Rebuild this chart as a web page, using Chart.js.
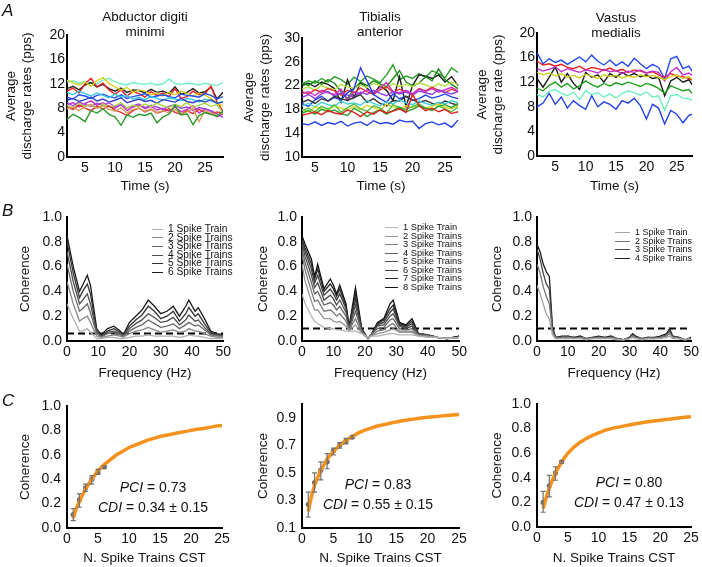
<!DOCTYPE html>
<html>
<head>
<meta charset="utf-8">
<script src="https://cdn.jsdelivr.net/npm/chart.js@4"></script>
<style>
body { margin: 0; background: #fff; }
#fig { position: relative; width: 702px; height: 567px; overflow: hidden; background: #fff;
  font-family: 'Liberation Sans', Arial, sans-serif; color: #111; }
#fig canvas { position: absolute; }
.t { position: absolute; white-space: nowrap; }
.ttl { font-size: 13.5px; line-height: 14.5px; text-align: center; transform: translateX(-50%); }
.let { font-size: 17px; font-style: italic; }
.ann { font-size: 14px; line-height: 20px; text-align: center; transform: translateX(-50%); }
.leg { position: absolute; white-space: nowrap; }
.leg span { display: inline-block; vertical-align: middle; border-top: 1.3px solid #555; margin-right: 5px; }
</style>
</head>
<body>
<div id="fig">
  <canvas id="a1" width="234" height="196" style="left:0;top:0"></canvas>
  <canvas id="a2" width="230" height="196" style="left:240px;top:0"></canvas>
  <canvas id="a3" width="232" height="196" style="left:470px;top:0"></canvas>
  <canvas id="b1" width="234" height="188" style="left:0;top:195px"></canvas>
  <canvas id="b2" width="230" height="188" style="left:240px;top:195px"></canvas>
  <canvas id="b3" width="232" height="188" style="left:470px;top:195px"></canvas>
  <canvas id="c1" width="234" height="184" style="left:0;top:383px"></canvas>
  <canvas id="c2" width="230" height="184" style="left:240px;top:383px"></canvas>
  <canvas id="c3" width="232" height="184" style="left:470px;top:383px"></canvas>

  <div class="t let" style="left:2px;top:1px">A</div>
  <div class="t let" style="left:2px;top:201px">B</div>
  <div class="t let" style="left:2px;top:391px">C</div>

  <div class="t ttl" style="left:145px;top:10px">Abductor digiti<br>minimi</div>
  <div class="t ttl" style="left:380px;top:10px">Tibialis<br>anterior</div>
  <div class="t ttl" style="left:616px;top:11px">Vastus<br>medialis</div>

  <div class="t ann" style="left:153px;top:477px"><i>PCI</i> = 0.73<br><i>CDI</i> = 0.34 ± 0.15</div>
  <div class="t ann" style="left:378px;top:474px"><i>PCI</i> = 0.83<br><i>CDI</i> = 0.55 ± 0.15</div>
  <div class="t ann" style="left:629px;top:472px"><i>PCI</i> = 0.80<br><i>CDI</i> = 0.47 ± 0.13</div>

  <div class="leg" id="legB1" style="left:152px;top:225px;font-size:10.2px;line-height:8.6px"></div>
  <div class="leg" id="legB2" style="left:385px;top:223px;font-size:9.3px;line-height:8.5px"></div>
  <div class="leg" id="legB3" style="left:615px;top:228px;font-size:9px;line-height:8.5px"></div>
</div>
<script>
// ---- A: average discharge rates ----
const tA1 = [2,3,4,5,6,7,8,9,10,11,12,13,14,15,16,17,18,19,20,21,22,23,24,25,26,27,28];
const tA2 = [3,4,5,6,7,8,9,10,11,12,13,14,15,16,17,18,19,20,21,22,23,24,25,26,27];
const tA3 = [2,3,4,5,6,7,8,9,10,11,12,13,14,15,16,17,18,19,20,21,22,23,24,25,26,27,27.5];
const timeTicks = [5,10,15,20,25];

const a1Aqua = [12.3,12.5,12.1,12.4,12.2,12.0,12.6,12.9,12.3,12.0,11.8,12.2,12.0,11.9,12.1,11.8,12.0,12.8,12.0,11.9,12.1,12.0,11.8,12.1,11.9,11.7,12.2];
const a1Black = [11.2,11.6,11.0,11.8,12.2,11.5,11.9,11.2,10.8,11.3,10.6,11.0,10.9,10.5,11.1,10.6,10.8,10.4,11.5,10.3,10.6,11.2,10.5,10.7,11.5,9.5,10.6];
const a1Red = [10.8,11.3,10.5,12.0,12.9,11.5,12.1,11.0,10.3,11.0,10.0,10.8,10.4,9.8,10.7,10.1,10.5,9.9,11.2,9.6,9.9,10.8,10.2,10.4,11.6,9.0,7.5];
const a1Yellow = [12.6,12.2,11.8,12.3,11.6,12.5,13.0,12.1,11.5,11.0,11.4,10.6,11.0,10.8,10.2,10.5,10.0,10.6,10.2,10.8,10.4,9.9,10.5,10.1,9.6,8.8,8.4];
const a1Blue = [9.8,9.5,10.2,10.0,9.6,10.1,10.3,9.9,9.7,10.2,9.6,9.9,10.1,10.4,9.8,10.0,10.2,9.9,9.7,10.3,10.1,10.0,9.8,10.4,10.1,9.5,9.9];
const a1Navy = [9.3,9.6,9.1,9.4,9.8,9.2,9.5,9.0,9.3,9.7,8.9,9.2,9.5,9.1,9.3,8.8,9.4,9.2,9.0,9.6,9.1,8.9,9.3,9.0,9.4,8.8,9.0];
const a1Cyan = [10.6,10.2,10.8,10.4,10.0,10.5,10.1,9.7,10.3,9.8,10.1,9.5,9.8,9.4,9.9,9.6,9.3,9.7,9.5,9.2,9.6,9.4,9.0,9.5,9.2,8.8,9.1];
const a1Magenta = [8.6,8.9,8.2,8.8,9.2,8.5,8.9,8.3,8.0,8.6,7.6,8.2,8.5,7.9,8.3,7.7,8.0,7.5,8.2,7.4,7.8,8.4,7.2,7.9,7.5,6.6,7.0];
const a1Purple = [8.9,8.4,9.0,8.6,8.3,8.8,8.5,8.9,8.2,8.6,8.0,8.4,8.7,8.1,8.5,8.2,7.8,8.3,8.6,8.0,8.2,7.6,8.1,7.9,7.6,7.1,6.5];
const a1Tan = [7.9,8.2,7.6,8.3,8.6,8.0,8.4,7.8,7.5,8.1,7.2,7.8,8.0,7.5,7.9,7.3,7.6,7.2,7.8,7.0,7.4,8.0,5.8,7.6,7.2,6.8,7.3];
const a1Green = [6.2,7.0,6.5,5.8,7.6,7.2,7.9,7.0,6.6,5.2,6.9,6.5,7.0,6.8,7.2,5.6,6.6,7.0,8.5,6.9,7.1,5.3,6.8,7.3,7.0,6.7,7.5];
const a1Red2 = [8.2,7.8,8.5,8.0,7.6,8.3,7.9,8.4,7.7,7.3,6.8,7.6,8.0,7.4,7.8,7.2,7.5,7.9,7.3,7.0,7.6,7.1,7.8,7.3,7.0,7.4,7.2];
const a1Lime = [8.5,8.0,8.8,8.3,8.6,8.1,8.7,8.2,8.4,8.9,8.0,8.5,8.2,8.7,8.3,8.8,8.4,8.1,8.6,8.3,8.9,8.2,8.5,8.8,8.3,8.6,7.2];

const a2Blue = [15.6,15.4,15.9,15.3,15.8,15.5,16.0,15.2,15.7,15.9,15.3,16.1,15.6,15.8,15.5,16.2,15.9,16.0,14.8,15.6,15.9,15.4,15.7,15.0,16.2];
const a2Red = [17.0,17.3,17.6,17.1,17.8,17.4,17.2,17.9,17.5,16.8,17.6,17.2,17.9,17.4,17.7,18.1,17.5,20.5,18.6,17.8,18.2,17.6,18.0,17.3,17.6];
const a2Green = [17.8,18.2,17.6,18.5,18.0,18.8,17.5,18.3,18.9,18.1,17.7,18.6,18.2,17.4,18.8,18.3,18.0,18.5,18.9,18.2,17.8,18.6,18.1,17.6,18.4];
const a2Green4 = [17.4,17.8,17.2,18.0,17.6,17.9,17.3,17.0,18.2,17.6,16.8,17.5,17.9,17.2,17.8,18.4,17.6,18.0,18.6,18.2,17.9,18.5,18.8,18.3,19.0];
const a2Yellow = [18.0,17.6,18.4,18.1,17.8,18.6,18.2,17.9,18.5,18.0,18.7,18.3,17.8,18.9,18.4,18.1,18.6,18.3,18.8,18.2,18.5,18.9,18.4,18.1,18.6];
const a2Cyan = [18.6,19.0,18.4,19.2,18.8,18.5,19.4,18.9,19.1,18.7,19.5,19.0,18.6,19.3,18.9,19.6,19.1,18.8,19.4,19.0,18.7,19.2,18.9,19.5,19.1];
const a2Black2 = [19.2,19.6,19.0,19.8,19.4,20.2,19.8,19.5,20.0,20.5,19.2,19.8,19.0,18.6,19.5,19.4,20.2,19.6,19.2,19.5,19.0,18.8,19.4,19.0,18.7];
const a2Blue2 = [19.0,18.5,19.6,20.2,19.4,20.0,19.6,20.8,21.5,25.0,22.8,20.5,19.8,19.2,20.6,19.8,20.2,19.5,19.8,20.4,19.9,20.2,20.6,20.1,19.8];
const a2Purple = [20.0,20.5,19.8,20.6,21.0,20.2,20.8,20.4,20.1,20.9,20.5,21.2,20.7,20.3,21.0,20.6,20.9,20.4,21.1,20.8,20.5,21.3,20.9,20.6,21.0];
const a2Magenta = [20.6,21.0,20.3,21.2,20.8,20.5,21.4,19.5,21.0,20.6,21.3,20.8,21.6,22.5,21.0,20.8,21.2,20.6,21.4,21.0,21.5,20.9,21.3,21.7,21.1];
const a2Red2 = [21.0,20.6,21.3,20.9,21.5,21.1,20.4,21.2,20.8,21.6,21.0,20.5,21.3,21.8,20.9,21.4,21.0,20.6,21.5,21.1,21.7,21.2,20.8,21.4,21.0];
const a2Lime = [21.4,21.8,21.2,22.0,21.6,21.3,22.2,21.8,21.5,22.1,21.7,22.4,22.0,21.6,22.3,21.9,22.2,21.8,22.5,22.1,21.7,22.3,21.9,22.6,22.2];
const a2Black = [22.0,22.4,21.8,22.6,22.2,21.5,19.2,23.0,20.0,22.5,21.6,20.5,22.0,21.2,19.5,23.5,18.5,22.0,23.8,23.6,23.2,23.8,22.6,23.5,22.0];
const a2Green3 = [22.5,22.0,22.8,22.2,23.0,22.4,21.0,19.8,21.5,22.6,22.0,22.8,22.3,21.8,23.2,24.5,22.6,22.0,22.4,23.5,22.8,24.8,23.0,22.2,21.5];
const a2Green2 = [22.2,22.8,22.4,23.2,22.6,23.5,23.0,22.2,23.4,22.7,23.6,23.1,22.5,23.8,25.5,23.0,23.6,23.2,24.0,23.4,24.5,24.0,23.3,25.0,24.2];

const a3Blue = [16.8,15.0,15.8,15.2,15.6,14.9,15.5,16.1,15.3,16.4,15.4,14.8,15.6,14.7,15.3,14.6,15.9,15.0,14.2,14.9,14.4,12.6,15.8,16.2,14.2,14.6,13.8];
const a3Red = [15.4,14.8,15.0,14.6,14.9,14.4,14.2,14.6,14.0,14.4,14.2,13.9,14.3,13.8,14.1,13.6,14.0,13.8,13.5,13.7,13.2,12.8,13.4,13.0,12.9,12.6,12.4];
const a3Magenta = [14.2,13.8,14.1,14.5,13.7,14.2,13.9,13.6,14.0,13.8,13.5,14.1,13.7,13.9,13.4,13.8,13.6,14.0,13.5,13.8,13.6,12.2,13.7,14.4,13.2,13.5,13.1];
const a3Yellow = [13.6,13.2,13.5,13.0,13.4,12.8,13.1,12.7,13.3,13.0,12.6,13.2,12.9,13.1,12.7,13.0,12.8,13.2,12.9,13.1,12.8,12.4,12.9,13.2,12.6,12.9,12.5];
const a3Black = [12.6,11.2,12.8,14.5,12.0,13.4,11.8,10.8,13.6,12.8,13.2,12.0,13.4,12.8,13.6,13.0,13.4,12.9,13.2,12.6,12.8,9.8,12.2,12.8,12.0,12.4,11.6];
const a3Green = [11.0,10.6,11.5,12.0,11.2,11.8,10.9,11.4,12.2,11.6,11.2,11.8,11.4,11.9,11.6,12.0,11.7,11.3,11.8,11.5,11.0,10.2,11.4,11.0,10.6,10.8,10.2];
const a3Aqua = [10.0,9.6,10.5,10.8,10.2,9.8,10.4,9.2,10.6,10.0,10.3,9.6,10.1,9.4,10.2,10.6,10.3,9.9,10.4,9.6,9.8,7.4,9.8,10.0,9.4,9.3,9.0];
const a3Blue2 = [8.0,8.6,10.2,8.4,9.6,7.8,9.0,8.2,7.6,9.8,8.0,8.8,8.4,7.6,9.0,8.6,9.4,8.2,6.0,8.4,7.8,5.2,7.4,6.8,5.4,6.6,6.8];

// ---- B: coherence spectra ----
const freqB1 = [0,2,4,5,6.5,7.5,9.5,11,13,15,17,18,20,22,24,26,28,30,32,34,36,38,39,41,42,44,46,48,50];
const b1s1 = [0.3,0.18,0.08,0.08,0.1,0.07,0.02,0.02,0.03,0.03,0.02,0.02,0.03,0.04,0.04,0.05,0.04,0.04,0.04,0.04,0.03,0.04,0.05,0.04,0.04,0.03,0.02,0.02,0.02];
const b1s2 = [0.48,0.3,0.16,0.18,0.2,0.15,0.04,0.03,0.04,0.05,0.04,0.03,0.06,0.08,0.09,0.11,0.09,0.07,0.08,0.09,0.07,0.08,0.1,0.08,0.08,0.06,0.04,0.03,0.03];
const b1s3 = [0.62,0.4,0.24,0.26,0.3,0.23,0.06,0.03,0.06,0.07,0.05,0.04,0.08,0.11,0.13,0.17,0.14,0.11,0.12,0.14,0.1,0.13,0.15,0.12,0.13,0.09,0.05,0.04,0.04];
const b1s4 = [0.72,0.48,0.3,0.33,0.38,0.3,0.07,0.04,0.07,0.08,0.06,0.04,0.1,0.14,0.17,0.22,0.19,0.15,0.16,0.19,0.13,0.17,0.21,0.16,0.17,0.11,0.06,0.05,0.04];
const b1s5 = [0.8,0.55,0.35,0.4,0.46,0.38,0.08,0.04,0.08,0.1,0.07,0.05,0.12,0.17,0.21,0.28,0.24,0.18,0.2,0.24,0.16,0.22,0.27,0.2,0.22,0.14,0.07,0.05,0.05];
const b1s6 = [0.85,0.6,0.4,0.45,0.53,0.45,0.1,0.05,0.1,0.12,0.08,0.05,0.15,0.2,0.25,0.33,0.28,0.22,0.24,0.28,0.2,0.28,0.33,0.24,0.27,0.18,0.08,0.06,0.05];
const b1Limit = 0.06;

const freqB2 = [0,1,3,4,5,7,9,10,11,12,14,15,17,19,21,22,24,26,28,29,31,33,35,37,40,43,46,50];
const b2s1 = [0.38,0.3,0.2,0.16,0.14,0.11,0.1,0.1,0.09,0.09,0.08,0.08,0.08,0.06,0.03,0.04,0.04,0.05,0.06,0.06,0.05,0.05,0.05,0.04,0.03,0.03,0.02,0.03];
const b2s2 = [0.62,0.48,0.32,0.25,0.25,0.18,0.18,0.16,0.15,0.16,0.12,0.08,0.13,0.06,0.02,0.04,0.06,0.07,0.09,0.1,0.07,0.07,0.07,0.04,0.04,0.03,0.02,0.03];
const b2s3 = [0.7,0.57,0.4,0.32,0.33,0.24,0.25,0.23,0.2,0.22,0.16,0.09,0.18,0.07,0.02,0.04,0.08,0.09,0.13,0.14,0.08,0.08,0.08,0.05,0.04,0.03,0.02,0.03];
const b2s4 = [0.74,0.63,0.47,0.38,0.4,0.29,0.31,0.29,0.25,0.28,0.2,0.09,0.24,0.08,0.02,0.05,0.1,0.11,0.17,0.18,0.1,0.09,0.1,0.05,0.04,0.03,0.02,0.03];
const b2s5 = [0.78,0.68,0.53,0.43,0.47,0.33,0.37,0.34,0.29,0.33,0.23,0.1,0.29,0.08,0.02,0.05,0.12,0.13,0.2,0.22,0.12,0.1,0.12,0.06,0.05,0.03,0.02,0.03];
const b2s6 = [0.8,0.72,0.58,0.47,0.53,0.37,0.42,0.38,0.33,0.38,0.26,0.1,0.34,0.09,0.02,0.05,0.13,0.15,0.23,0.26,0.13,0.11,0.14,0.06,0.05,0.03,0.02,0.03];
const b2s7 = [0.82,0.75,0.62,0.5,0.58,0.4,0.46,0.42,0.36,0.42,0.28,0.11,0.38,0.09,0.02,0.05,0.14,0.17,0.26,0.29,0.14,0.12,0.16,0.06,0.05,0.03,0.02,0.04];
const b2s8 = [0.85,0.78,0.66,0.52,0.62,0.42,0.5,0.45,0.38,0.45,0.3,0.12,0.43,0.1,0.02,0.05,0.15,0.18,0.3,0.33,0.15,0.13,0.18,0.06,0.05,0.03,0.02,0.04];
const b2Limit = 0.1;

const freqB3 = [0,1,2,3,4,5,6,8,10,12,14,16,18,20,22,24,26,28,30,31,32,34,36,38,40,42,43,44,46,48,50];
const b3s1 = [0.45,0.38,0.3,0.22,0.18,0.05,0.02,0.02,0.02,0.02,0.02,0.01,0.02,0.02,0.02,0.02,0.01,0.01,0.02,0.03,0.02,0.01,0.02,0.02,0.02,0.03,0.04,0.02,0.02,0.01,0.02];
const b3s2 = [0.62,0.55,0.44,0.36,0.3,0.08,0.02,0.03,0.03,0.02,0.03,0.02,0.02,0.03,0.02,0.03,0.02,0.01,0.02,0.04,0.03,0.02,0.02,0.02,0.03,0.04,0.06,0.03,0.02,0.01,0.02];
const b3s3 = [0.74,0.66,0.55,0.46,0.42,0.1,0.03,0.03,0.04,0.03,0.03,0.02,0.03,0.03,0.03,0.03,0.02,0.01,0.03,0.05,0.03,0.02,0.03,0.02,0.03,0.05,0.08,0.04,0.03,0.01,0.02];
const b3s4 = [0.78,0.72,0.62,0.56,0.52,0.12,0.03,0.04,0.04,0.03,0.04,0.02,0.03,0.04,0.03,0.04,0.02,0.01,0.03,0.06,0.04,0.02,0.03,0.03,0.04,0.06,0.1,0.04,0.03,0.01,0.03];
const b3Limit = 0.1;

const trainLabels = ['1 Spike Train','2 Spike Trains','3 Spike Trains','4 Spike Trains','5 Spike Trains','6 Spike Trains','7 Spike Trains','8 Spike Trains'];
const freqTicks = [0,10,20,30,40,50];
const cohTicks = [0,0.2,0.4,0.6,0.8,1.0];

// ---- C: coherence vs number of spike trains ----
const cFitX = [1,1.5,2,3,4,5,6,7,8,9,10,11,12,13,14,15,16,17,18,19,20,21,22,23,24,25];
const nTicks = [0,5,10,15,20,25];

const c1N = [1,2,3,4,5,6];
const c1Mean = [0.11,0.23,0.33,0.40,0.46,0.50];
const c1Lo = [0.06,0.17,0.30,0.36,0.44,0.49];
const c1Hi = [0.16,0.28,0.36,0.43,0.48,0.51];
const c1Fit = [0.08,0.16,0.22,0.32,0.40,0.47,0.52,0.56,0.60,0.63,0.66,0.68,0.70,0.72,0.735,0.75,0.76,0.77,0.78,0.79,0.80,0.81,0.815,0.825,0.835,0.84];

const c2N = [1,2,3,4,5,6,7,8];
const c2Mean = [0.27,0.43,0.52,0.58,0.66,0.70,0.73,0.76];
const c2Lo = [0.18,0.36,0.45,0.53,0.63,0.68,0.71,0.75];
const c2Hi = [0.36,0.50,0.58,0.64,0.68,0.72,0.75,0.77];
const c2Fit = [0.22,0.33,0.41,0.52,0.60,0.655,0.70,0.735,0.765,0.79,0.81,0.825,0.84,0.85,0.86,0.87,0.878,0.885,0.892,0.898,0.903,0.908,0.912,0.916,0.92,0.923];
const c2Ticks = [0.1,0.3,0.5,0.7,0.9];

const c3N = [1,2,3,4];
const c3Mean = [0.2,0.335,0.44,0.53];
const c3Lo = [0.12,0.245,0.38,0.52];
const c3Hi = [0.29,0.42,0.49,0.54];
const c3Fit = [0.15,0.24,0.32,0.44,0.53,0.60,0.65,0.69,0.72,0.745,0.765,0.785,0.80,0.81,0.82,0.83,0.84,0.848,0.856,0.862,0.868,0.874,0.88,0.886,0.892,0.897];

const grays6 = ['#b0b0b0','#888888','#6a6a6a','#4e4e4e','#333333','#1a1a1a'];
const grays8 = ['#b4b4b4','#969696','#7c7c7c','#646464','#4e4e4e','#3a3a3a','#262626','#121212'];
const grays4 = ['#a4a4a4','#767676','#484848','#1e1e1e'];
const orange = '#f5921e';

Chart.defaults.font.family = "'Liberation Sans', Arial, sans-serif";
Chart.defaults.color = '#111';

function pts(xs, ys) { return xs.map((x, i) => ({ x: x, y: ys[i] })); }
function line(xs, ys, color, w) {
  return { data: pts(xs, ys), borderColor: color, borderWidth: w || 1.4, pointRadius: 0, fill: false, tension: 0 };
}
function limit(y, x0, x1) {
  return { data: [{ x: x0, y: y }, { x: x1, y: y }], borderColor: '#000', borderWidth: 2, borderDash: [7, 4], pointRadius: 0 };
}

// draws the error bars from the C arrays through the chart's own scales
function errorBars(xs, lo, hi) {
  return {
    id: 'errorBars',
    afterDatasetsDraw(chart) {
      const ctx = chart.ctx, sx = chart.scales.x, sy = chart.scales.y;
      ctx.save();
      ctx.strokeStyle = '#707070';
      ctx.lineWidth = 1.2;
      xs.forEach((v, i) => {
        const px = sx.getPixelForValue(v), pl = sy.getPixelForValue(lo[i]), ph = sy.getPixelForValue(hi[i]);
        ctx.beginPath();
        ctx.moveTo(px, pl); ctx.lineTo(px, ph);
        ctx.moveTo(px - 2.5, pl); ctx.lineTo(px + 2.5, pl);
        ctx.moveTo(px - 2.5, ph); ctx.lineTo(px + 2.5, ph);
        ctx.stroke();
      });
      ctx.restore();
    }
  };
}

function makeChart(id, datasets, o) {
  return new Chart(document.getElementById(id), {
    type: 'line',
    data: { datasets: datasets },
    options: {
      responsive: false,
      animation: false,
      events: [],
      layout: { padding: { top: o.top, right: o.right, bottom: 0, left: 0 } },
      plugins: { legend: { display: false }, tooltip: { enabled: false } },
      scales: {
        x: {
          type: 'linear', min: o.xmin, max: o.xmax,
          afterFit: s => { s.height = o.xh; },
          afterBuildTicks: s => { s.ticks = o.xticks.map(v => ({ value: v })); },
          grid: { display: false, drawTicks: false },
          border: { color: '#000', width: 2 },
          ticks: { padding: 3, font: { size: 14 }, color: '#111' },
          title: { display: true, text: o.xtitle, color: '#111', font: { size: 13.5, lineHeight: 1.3 }, padding: { top: 0, bottom: o.xtp } }
        },
        y: {
          type: 'linear', min: o.ymin, max: o.ymax,
          afterFit: s => { s.width = o.yw; },
          afterBuildTicks: s => { s.ticks = o.yticks.map(v => ({ value: v })); },
          grid: { display: false, drawTicks: false },
          border: { color: '#000', width: 2 },
          ticks: { padding: o.ytpad, font: { size: 14 }, color: '#111',
                   callback: v => o.dec ? v.toFixed(o.dec) : String(v) },
          title: { display: true, text: o.ytitle, color: '#111', font: { size: 13.5, lineHeight: '16px' }, padding: { top: o.ytp, bottom: 0 } }
        }
      }
    },
    plugins: o.plugins || []
  });
}

// ---- A row ----
makeChart('a1', [
  line(tA1, a1Green, '#2a9a2a'), line(tA1, a1Tan, '#d4a05a'), line(tA1, a1Red2, '#e23030'),
  line(tA1, a1Lime, '#a8d848'), line(tA1, a1Purple, '#a040e0'), line(tA1, a1Magenta, '#d030c0'),
  line(tA1, a1Navy, '#3040c0'), line(tA1, a1Cyan, '#30c8e0'), line(tA1, a1Blue, '#2050f0'),
  line(tA1, a1Yellow, '#d8d020'), line(tA1, a1Red, '#e82020'), line(tA1, a1Black, '#222'),
  line(tA1, a1Aqua, '#70f0c0')
], { top: 35, right: 11, xh: 39, xtp: 1.2, yw: 67, ytp: 3, ytpad: 2,
     xmin: 2, xmax: 28, xticks: timeTicks, ymin: 0, ymax: 20, yticks: [0,4,8,12,16,20],
     xtitle: 'Time (s)', ytitle: ['Average', 'discharge rates (pps)'] });

makeChart('a2', [
  line(tA2, a2Blue, '#2040e8'), line(tA2, a2Red, '#e02020'), line(tA2, a2Green4, '#30a030'),
  line(tA2, a2Green, '#50c040'), line(tA2, a2Yellow, '#d8d828'), line(tA2, a2Cyan, '#40d0d8'),
  line(tA2, a2Black2, '#333'), line(tA2, a2Blue2, '#2040f0'), line(tA2, a2Purple, '#9040e0'),
  line(tA2, a2Magenta, '#d030c8'), line(tA2, a2Red2, '#e83030'), line(tA2, a2Lime, '#b8e040'),
  line(tA2, a2Green3, '#1e8a1e'), line(tA2, a2Black, '#1a1a1a'), line(tA2, a2Green2, '#28a028')
], { top: 38, right: 10, xh: 39, xtp: 1.2, yw: 62, ytp: 1, ytpad: 2,
     xmin: 3, xmax: 27.3, xticks: timeTicks, ymin: 10, ymax: 30, yticks: [10,14,18,22,26,30],
     xtitle: 'Time (s)', ytitle: ['Average', 'discharge rates (pps)'] });

makeChart('a3', [
  line(tA3, a3Blue2, '#2040e8'), line(tA3, a3Aqua, '#70f0c0'), line(tA3, a3Green, '#20a020'),
  line(tA3, a3Yellow, '#d0d020'), line(tA3, a3Magenta, '#c030d0'), line(tA3, a3Red, '#e82020'),
  line(tA3, a3Black, '#1a1a1a'), line(tA3, a3Blue, '#2048f0')
], { top: 33, right: 10, xh: 40, xtp: 1.2, yw: 67, ytp: 4, ytpad: 2,
     xmin: 2, xmax: 27.5, xticks: timeTicks, ymin: 0, ymax: 20, yticks: [0,4,8,12,16,20],
     xtitle: 'Time (s)', ytitle: ['Average', 'discharge rate (pps)'] });

// ---- B row ----
const b1Sets = [b1s1, b1s2, b1s3, b1s4, b1s5, b1s6];
makeChart('b1', b1Sets.map((s, i) => line(freqB1, s, grays6[i], 1.3)).concat([limit(b1Limit, 0, 50)]),
  { top: 22, right: 10, xh: 42, xtp: 1.2, yw: 67, ytp: 17, ytpad: 5, dec: 1,
    xmin: 0, xmax: 50, xticks: freqTicks, ymin: 0, ymax: 1, yticks: cohTicks,
    xtitle: 'Frequency (Hz)', ytitle: 'Coherence' });

const b2Sets = [b2s1, b2s2, b2s3, b2s4, b2s5, b2s6, b2s7, b2s8];
makeChart('b2', b2Sets.map((s, i) => line(freqB2, s, grays8[i], 1.3)).concat([limit(b2Limit, 0, 50)]),
  { top: 22, right: 10, xh: 42, xtp: 1.2, yw: 62, ytp: 15, ytpad: 5, dec: 1,
    xmin: 0, xmax: 50, xticks: freqTicks, ymin: 0, ymax: 1, yticks: cohTicks,
    xtitle: 'Frequency (Hz)', ytitle: 'Coherence' });

const b3Sets = [b3s1, b3s2, b3s3, b3s4];
makeChart('b3', b3Sets.map((s, i) => line(freqB3, s, grays4[i], 1.3)).concat([limit(b3Limit, 0, 50)]),
  { top: 22, right: 10, xh: 42, xtp: 1.2, yw: 67, ytp: 19, ytpad: 5, dec: 1,
    xmin: 0, xmax: 50, xticks: freqTicks, ymin: 0, ymax: 1, yticks: cohTicks,
    xtitle: 'Frequency (Hz)', ytitle: 'Coherence' });

function fillLegend(id, n, colors, sw) {
  document.getElementById(id).innerHTML = trainLabels.slice(0, n)
    .map((t, i) => '<div><span style="width:' + sw + 'px;border-color:' + colors[i] + '"></span>' + t + '</div>').join('');
}
fillLegend('legB1', 6, grays6, 11);
fillLegend('legB2', 8, grays8, 13);
fillLegend('legB3', 4, grays4, 15);

// ---- C row ----
function meanPts(xs, ys) {
  return { data: pts(xs, ys), showLine: false, pointRadius: 2.6, pointBackgroundColor: '#6a6a6a', pointBorderWidth: 0 };
}
makeChart('c1', [line(cFitX, c1Fit, orange, 3.5), meanPts(c1N, c1Mean)],
  { top: 23, right: 12, xh: 39, xtp: 0.2, yw: 67, ytp: 17, ytpad: 6, dec: 1,
    xmin: 0, xmax: 25, xticks: nTicks, ymin: 0, ymax: 1, yticks: cohTicks,
    xtitle: 'N. Spike Trains CST', ytitle: 'Coherence', plugins: [errorBars(c1N, c1Lo, c1Hi)] });

makeChart('c2', [line(cFitX, c2Fit, orange, 3.5), meanPts(c2N, c2Mean)],
  { top: 21, right: 11, xh: 39, xtp: 0.2, yw: 62, ytp: 15, ytpad: 6, dec: 1,
    xmin: 0, xmax: 25, xticks: nTicks, ymin: 0.1, ymax: 1, yticks: c2Ticks,
    xtitle: 'N. Spike Trains CST', ytitle: 'Coherence', plugins: [errorBars(c2N, c2Lo, c2Hi)] });

makeChart('c3', [line(cFitX, c3Fit, orange, 3.5), meanPts(c3N, c3Mean)],
  { top: 21, right: 11, xh: 40, xtp: 0.2, yw: 67, ytp: 19, ytpad: 6, dec: 1,
    xmin: 0, xmax: 25, xticks: nTicks, ymin: 0, ymax: 1, yticks: cohTicks,
    xtitle: 'N. Spike Trains CST', ytitle: 'Coherence', plugins: [errorBars(c3N, c3Lo, c3Hi)] });
</script>
</body>
</html>
